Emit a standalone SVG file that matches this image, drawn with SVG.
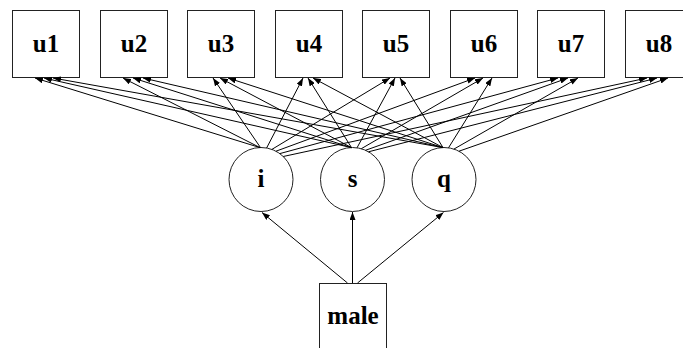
<svg xmlns="http://www.w3.org/2000/svg" width="683" height="348" viewBox="0 0 683 348">
<style>
.box{fill:#fff;stroke:#222;stroke-width:1}
.lat{fill:#fff;stroke:#222;stroke-width:1}
.lbl{font-family:'Liberation Serif','Times New Roman',serif;font-size:25px;font-weight:bold;fill:#000;text-anchor:middle}
.con line{stroke:#000;stroke-width:1;marker-end:url(#ah)}
</style>
<defs>
<marker id="ah" viewBox="0 0 8 6" refX="8" refY="3" markerWidth="8" markerHeight="6" markerUnits="userSpaceOnUse" orient="auto">
<path d="M0,0 L8,3 L0,6 z" fill="#000"/>
</marker>
</defs>
<rect width="683" height="348" fill="#fff"/>
<g id="u1"><rect class="box" x="12.5" y="10.5" width="67" height="67"/><text class="lbl" x="46" y="52">u1</text></g>
<g id="u2"><rect class="box" x="100.5" y="10.5" width="67" height="67"/><text class="lbl" x="134" y="52">u2</text></g>
<g id="u3"><rect class="box" x="187.5" y="10.5" width="67" height="67"/><text class="lbl" x="221" y="52">u3</text></g>
<g id="u4"><rect class="box" x="275.5" y="10.5" width="67" height="67"/><text class="lbl" x="309" y="52">u4</text></g>
<g id="u5"><rect class="box" x="362.5" y="10.5" width="67" height="67"/><text class="lbl" x="396" y="52">u5</text></g>
<g id="u6"><rect class="box" x="450.5" y="10.5" width="67" height="67"/><text class="lbl" x="484" y="52">u6</text></g>
<g id="u7"><rect class="box" x="537.5" y="10.5" width="67" height="67"/><text class="lbl" x="571" y="52">u7</text></g>
<g id="u8"><rect class="box" x="625.5" y="10.5" width="67" height="67"/><text class="lbl" x="659" y="52">u8</text></g>
<g id="i"><circle class="lat" cx="261" cy="179.5" r="32"/><text class="lbl" x="261" y="187">i</text></g>
<g id="s"><circle class="lat" cx="352.5" cy="179.5" r="32"/><text class="lbl" x="352.5" y="187">s</text></g>
<g id="q"><circle class="lat" cx="444" cy="179.5" r="32"/><text class="lbl" x="444" y="187">q</text></g>
<g id="male"><rect class="box" x="319.5" y="283.5" width="67" height="70"/><text class="lbl" x="353" y="324">male</text></g>
<g id="connectors" class="con">
<line x1="260" y1="147.6" x2="35" y2="78"/>
<line x1="260" y1="147.6" x2="123" y2="78"/>
<line x1="260.5" y1="147.6" x2="213" y2="78"/>
<line x1="266.6" y1="148.0" x2="303" y2="78"/>
<line x1="271.9" y1="149.4" x2="390" y2="78"/>
<line x1="276.0" y1="151.2" x2="475" y2="78"/>
<line x1="279.8" y1="153.6" x2="558" y2="78"/>
<line x1="283.2" y1="156.5" x2="647" y2="78"/>
<line x1="351.5" y1="147.6" x2="44" y2="78"/>
<line x1="351.5" y1="147.6" x2="133" y2="78"/>
<line x1="351.5" y1="147.6" x2="220" y2="78"/>
<line x1="351.5" y1="147.6" x2="308" y2="78"/>
<line x1="357" y1="147.8" x2="395" y2="78"/>
<line x1="361.3" y1="148.7" x2="483" y2="78"/>
<line x1="365.5" y1="150.3" x2="568" y2="78"/>
<line x1="368.5" y1="151.8" x2="657" y2="78"/>
<line x1="443" y1="147.6" x2="53" y2="78"/>
<line x1="443" y1="147.6" x2="143" y2="78"/>
<line x1="443" y1="147.6" x2="228" y2="78"/>
<line x1="443" y1="147.6" x2="313" y2="78"/>
<line x1="443" y1="147.6" x2="400" y2="78"/>
<line x1="448.5" y1="147.8" x2="492" y2="78"/>
<line x1="453.9" y1="149.1" x2="578" y2="78"/>
<line x1="459" y1="151.2" x2="668" y2="78"/>
<line x1="347.5" y1="283" x2="262" y2="212.5"/>
<line x1="352.5" y1="283" x2="352.5" y2="212"/>
<line x1="357.5" y1="283" x2="443.5" y2="212.5"/>
</g>
</svg>
